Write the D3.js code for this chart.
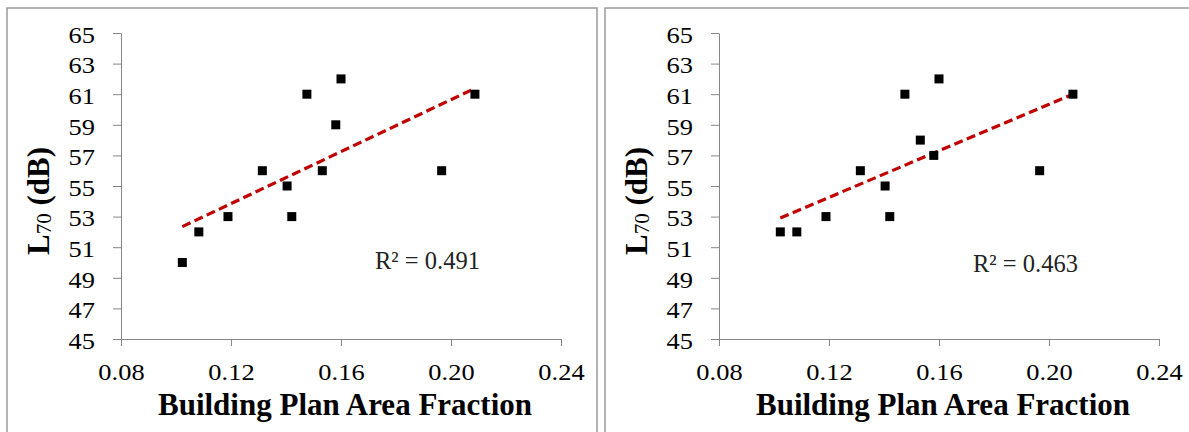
<!DOCTYPE html>
<html>
<head>
<meta charset="utf-8">
<script src="https://cdn.jsdelivr.net/npm/d3@7"></script>
<style>
  html, body { margin: 0; padding: 0; background: #fff; }
  svg { display: block; }
</style>
</head>
<body>
<svg id="chart" width="1189" height="432"></svg>
<script>
// ---- data ----
const xValues = [0.1023, 0.1083, 0.1189, 0.1314, 0.1404, 0.1421, 0.1476, 0.1532, 0.1581, 0.1600, 0.1966, 0.2087];
const leftY   = [50, 52, 53, 56, 55, 53, 61, 56, 59, 62, 56, 61];
const rightY  = [52, 52, 53, 56, 55, 53, 61, 58, 57, 62, 56, 61];
const r2Labels = ["R\u00B2 = 0.491", "R\u00B2 = 0.463"];
const xTicks = [0.08, 0.12, 0.16, 0.20, 0.24];
const yTicks = [45, 47, 49, 51, 53, 55, 57, 59, 61, 63, 65];
const xTitle = "Building Plan Area Fraction";

const svg = d3.select("#chart");
const serif = "'Liberation Serif', 'Times New Roman', serif";
const stretch = 1.15;

function fit(xs, ys) {
  const mx = d3.mean(xs), my = d3.mean(ys);
  let sxy = 0, sxx = 0;
  xs.forEach((x, i) => { sxy += (x - mx) * (ys[i] - my); sxx += (x - mx) * (x - mx); });
  const b = sxy / sxx, a = my - b * mx;
  return x => a + b * x;
}

const panels = [
  { off: 0,   ys: leftY,  r2: r2Labels[0], r2y: 269 },
  { off: 598, ys: rightY, r2: r2Labels[1], r2y: 272 }
];

panels.forEach(p => {
  const g = svg.append("g").attr("transform", `translate(${p.off},0)`);

  g.append("rect")
    .attr("x", 7).attr("y", 8).attr("width", 590).attr("height", 460)
    .attr("fill", "#fff").attr("stroke", "#9a9a9a").attr("stroke-width", 1.5);

  const x = d3.scaleLinear().domain([0.08, 0.24]).range([121, 561]);
  const y = d3.scaleLinear().domain([45, 65]).range([339, 33]);

  // y axis
  const ya = g.append("g").attr("transform", "translate(121,0)")
    .call(d3.axisLeft(y).tickValues(yTicks).tickSize(8).tickSizeOuter(0).tickFormat(d3.format("d")));
  ya.selectAll("path, line").attr("stroke", "#868686").attr("stroke-width", 1);
  ya.selectAll("text")
    .attr("x", -26 / stretch).attr("dy", "0.4em")
    .attr("transform", `scale(${stretch},1)`)
    .attr("fill", "#000")
    .style("font-family", serif).style("font-size", "23px");

  // x axis
  const xa = g.append("g").attr("transform", "translate(0,339)")
    .call(d3.axisBottom(x).tickValues(xTicks).tickSize(7).tickSizeOuter(0).tickFormat(d3.format(".2f")));
  xa.selectAll("path, line").attr("stroke", "#868686").attr("stroke-width", 1);
  xa.selectAll("text")
    .attr("y", 41).attr("dy", 0)
    .attr("transform", `scale(${stretch},1)`)
    .attr("fill", "#000")
    .style("font-family", serif).style("font-size", "23px");
  // keep centered under ticks despite scaling
  xa.selectAll(".tick text").attr("x", 0);

  // trend line
  const f = fit(xValues, p.ys);
  const xmin = d3.min(xValues), xmax = d3.max(xValues);
  g.append("line")
    .attr("x1", x(xmin)).attr("y1", y(f(xmin)))
    .attr("x2", x(xmax)).attr("y2", y(f(xmax)))
    .attr("stroke", "#c00000").attr("stroke-width", 3.2)
    .attr("stroke-dasharray", "9,4.5");

  // markers
  const s = 9;
  g.selectAll("rect.pt").data(xValues.map((v, i) => [v, p.ys[i]]))
    .enter().append("rect").attr("class", "pt")
    .attr("x", d => x(d[0]) - s / 2).attr("y", d => y(d[1]) - s / 2)
    .attr("width", s).attr("height", s).attr("fill", "#000");

  // R^2 label
  g.append("text")
    .attr("x", 375).attr("y", p.r2y)
    .attr("fill", "#222")
    .style("font-family", serif).style("font-size", "24.5px")
    .text(p.r2);

  // x title
  g.append("text")
    .attr("x", 345).attr("y", 415)
    .attr("text-anchor", "middle")
    .attr("fill", "#000")
    .style("font-family", serif).style("font-size", "31px").style("font-weight", "bold")
    .text(xTitle);

  // y title: L70 (dB)
  const yt = g.append("text")
    .attr("transform", "translate(49,201) rotate(-90)")
    .attr("text-anchor", "middle")
    .attr("fill", "#000")
    .style("font-family", serif).style("font-size", "31px").style("font-weight", "bold");
  yt.append("tspan").text("L");
  yt.append("tspan").attr("dy", 2).style("font-size", "21px").style("font-weight", "normal").text("70");
  yt.append("tspan").attr("dy", -2).text(" (dB)");
});
</script>
</body>
</html>
